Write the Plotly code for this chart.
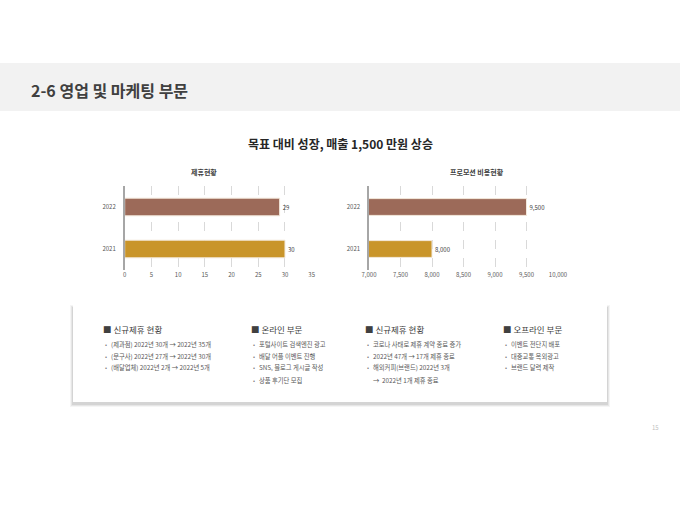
import plotly.graph_objects as go
from plotly.subplots import make_subplots

W, H = 680, 510
FONT = "Noto Sans CJK KR"

# data
years = ["2021", "2022"]
partner_counts = [30, 29]
promo_costs = [8000, 9500]
bar_colors = ["#c9952a", "#9c6a59"]

page_title = "2-6 영업 및 마케팅 부문"
main_title = "목표 대비 성장, 매출 1,500 만원 상승"
left_title = "제휴현황"
right_title = "프로모션 비용현황"

col_heads = ["신규제휴 현황", "온라인 부문", "신규제휴 현황", "오프라인 부문"]
col_items = [
    ["(제과점) 2022년 30개 → 2022년 35개",
     "(문구사) 2022년 27개 → 2022년 30개",
     "(배달업체) 2022년 2개 → 2022년 5개"],
    ["포털사이트 검색엔진 광고",
     "배달 어플 이벤트 진행",
     "SNS, 블로그 게시글 작성",
     "상품 후기단 모집"],
    ["코로나 사태로 제휴 계약 종료 증가",
     "2022년 47개 → 17개 제휴 종료",
     "해외커피(브랜드) 2022년 3개",
     "→  2022년 1개 제휴 종료"],
    ["이벤트 전단지 배포",
     "대중교통 옥외광고",
     "브랜드 달력 제작"],
]
page_no = "15"


def px(x):
    return x / W


def py(y):
    return 1 - y / H


fig = make_subplots(rows=1, cols=2)

fig.add_trace(go.Bar(
    x=partner_counts, y=years, orientation="h",
    marker=dict(color=bar_colors, line=dict(color="#f3e9dc", width=1)),
    width=0.42, text=[str(v) for v in partner_counts], textposition="outside",
    textfont=dict(size=6, color="#404040", family=FONT), cliponaxis=False,
    showlegend=False), row=1, col=1)

fig.add_trace(go.Bar(
    x=promo_costs, y=years, orientation="h",
    marker=dict(color=bar_colors, line=dict(color="#f3e9dc", width=1)),
    width=0.4, text=[f"{v:,}" for v in promo_costs], textposition="outside",
    textfont=dict(size=6, color="#404040", family=FONT), cliponaxis=False,
    showlegend=False), row=1, col=2)

ydom = [py(270), py(186)]
axis_common = dict(showgrid=True, gridcolor="#d9d9d9", griddash="dash", gridwidth=0.8,
                   zeroline=False, tickfont=dict(size=6, color="#595959", family=FONT),
                   ticks="", showline=False, automargin=False)
fig.update_xaxes(range=[0, 35], dtick=5, domain=[px(124.7), px(311.7)], **axis_common, row=1, col=1)
fig.update_xaxes(range=[7000, 10000], dtick=500, tickformat=",", domain=[px(369), px(558)],
                 **axis_common, row=1, col=2)
fig.update_yaxes(domain=ydom, showline=True, linecolor="#a6a6a6", linewidth=1.5,
                 showgrid=False, ticks="", ticklabelstandoff=6, automargin=False,
                 tickfont=dict(size=6, color="#595959", family=FONT))

shapes = [
    # header band
    dict(type="rect", xref="paper", yref="paper", x0=0, x1=1, y0=py(111), y1=py(63),
         fillcolor="#f2f2f2", line=dict(width=0), layer="below"),
]
# card shadow
for i, a in enumerate([0.04, 0.06, 0.08]):
    d = 3 - i
    shapes.append(dict(type="rect", xref="paper", yref="paper",
                       x0=px(73 - d), x1=px(607 + d), y0=py(403 + d + 1), y1=py(306 - d + 2),
                       fillcolor=f"rgba(0,0,0,{a})", line=dict(width=0), layer="below"))
shapes.append(dict(type="rect", xref="paper", yref="paper", x0=px(73), x1=px(607),
                   y0=py(402), y1=py(305), fillcolor="white", line=dict(width=0), layer="below"))

ann = [
    dict(x=px(29), y=py(90), text=f"<b>{page_title}</b>", xanchor="left",
         font=dict(size=16, color="#404040", family=FONT)),
    dict(x=px(340), y=py(143), text=f"<b>{main_title}</b>", xanchor="center",
         font=dict(size=12, color="#262626", family=FONT)),
    dict(x=px(204), y=py(172), text=f"<b>{left_title}</b>", xanchor="center",
         font=dict(size=7, color="#404040", family=FONT)),
    dict(x=px(477), y=py(172), text=f"<b>{right_title}</b>", xanchor="center",
         font=dict(size=7, color="#404040", family=FONT)),
    dict(x=px(655), y=py(427), text=page_no, xanchor="center",
         font=dict(size=6, color="#bfbfbf", family=FONT)),
]

col_x = [101, 249, 363, 501]
line_y = [344, 356, 367, 380]
for cx, head, items in zip(col_x, col_heads, col_items):
    ann.append(dict(x=px(cx), y=py(329), text=f"■ {head}", xanchor="left",
                    font=dict(size=8.5, color="#404040", family=FONT)))
    for j, it in enumerate(items):
        if it.startswith("→"):
            ann.append(dict(x=px(cx + 8), y=py(line_y[j]), text=it, xanchor="left",
                            font=dict(size=6.3, color="#595959", family=FONT)))
        else:
            ann.append(dict(x=px(cx + 2), y=py(line_y[j]), text="•", xanchor="left",
                            font=dict(size=6, color="#7f7f7f", family=FONT)))
            ann.append(dict(x=px(cx + 8), y=py(line_y[j]), text=it, xanchor="left",
                            font=dict(size=6.3, color="#595959", family=FONT)))

for a in ann:
    a.update(xref="paper", yref="paper", showarrow=False, yanchor=a.get("yanchor", "middle"))

fig.update_layout(
    width=W, height=H, margin=dict(l=0, r=0, t=0, b=0, pad=0, autoexpand=False),
    paper_bgcolor="white", plot_bgcolor="rgba(0,0,0,0)",
    font=dict(family=FONT), shapes=shapes, annotations=ann, bargap=0.5,
)

fig.write_html("out.html", config={"displayModeBar": False},
               post_script="document.documentElement.style.margin='0';document.body.style.margin='0';"
                           "document.body.style.overflow='hidden';document.documentElement.style.overflow='hidden';")
